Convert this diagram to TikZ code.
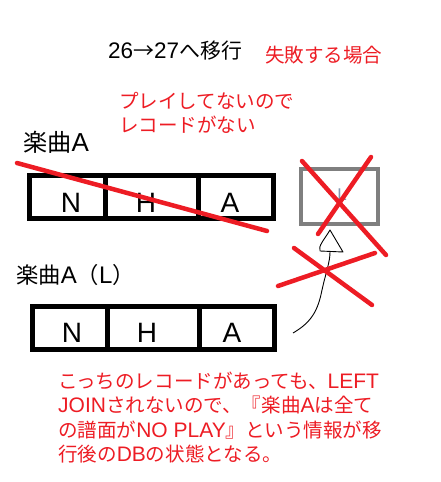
\documentclass[tikz,border=0pt]{standalone}
\usepackage{fontspec}
\setmainfont{Liberation Sans}
\newfontfamily\jp[Scale=0.93]{Noto Sans CJK JP}
\definecolor{pred}{RGB}{237,28,36}
\definecolor{pgray}{RGB}{127,127,127}
\definecolor{lgray}{RGB}{130,150,175}
\begin{document}
\begin{tikzpicture}[x=1pt,y=-1pt,
  cellbox/.style={draw, line width=5pt, minimum height=43pt, minimum width=#1, inner sep=0pt},
  celltext/.style={inner sep=0pt, font=\fontsize{28}{30}\selectfont},
  txt/.style={inner sep=0pt, anchor=base west},
  redtxt/.style={txt, text=pred, font=\fontsize{21}{24}\selectfont},
  strike/.style={draw=pred, line width=4.5pt, line cap=round},
  thinline/.style={draw=black, line width=0.9pt, line join=round}]
\path[use as bounding box] (0,0) rectangle (440,482);
% titles
\node[txt, font=\fontsize{22.5}{26}\selectfont] (title) at (108,58) {26{\jp →}27{\jp へ移行}};
\node[redtxt] (fail) at (265,62) {\jp 失敗する場合};
\node[redtxt] (note1) at (119,108) {\jp プレイしてないので};
\node[redtxt] (note2) at (119,132) {\jp レコードがない};
\node[txt, font=\fontsize{26}{30}\selectfont] (songA) at (23,151) {{\jp 楽曲}A};
\node[txt, font=\fontsize{24}{28}\selectfont] (songAL) at (16,283) {{\jp 楽曲}A{\jp （}L{\jp ）}};
% top row
\node[cellbox=75.5pt] (tN) at (67.25,197) {};
\node[cellbox=93pt] (tH) at (151.5,197) {};
\node[cellbox=75.5pt] (tA) at (235.75,197) {};
\node[celltext] (tNt) at (71,203) {N};
\node[celltext] (tHt) at (146,203) {H};
\node[celltext] (tAt) at (230,203) {A};
% bottom row
\node[cellbox=74.5pt] (bN) at (69.75,328) {};
\node[cellbox=92pt] (bH) at (153,328) {};
\node[cellbox=75.5pt] (bA) at (236.75,328) {};
\node[celltext] (bNt) at (72,333) {N};
\node[celltext] (bHt) at (147,333) {H};
\node[celltext] (bAt) at (232,333) {A};
% gray box
\node[draw=pgray, line width=4pt, minimum width=77pt, minimum height=55pt, inner sep=0pt] (gbox) at (339.5,196.5) {};
\node[inner sep=0pt, text=lgray, font=\fontsize{17}{20}\selectfont] (gL) at (342,195) {L};
% hand-drawn arrow
\coordinate (arrS) at (293,333);
\coordinate (arrE) at (330,252);
\coordinate (tip) at (330,230);
\coordinate (tl) at (320,251);
\coordinate (tr) at (343,252);
\draw[thinline] (arrS) .. controls (312,322) and (318,310) .. (322,290) .. controls (326,272) and (330,262) .. (arrE);
\draw[thinline] (tip) .. controls (324,240) and (318,246) .. (tl) -- (tr) -- cycle;
% red strikes
\coordinate (s1a) at (17,163); \coordinate (s1b) at (267,231);
\draw[strike] (s1a) -- (s1b);
\coordinate (x1a) at (302,161); \coordinate (x1b) at (386,255);
\coordinate (x2a) at (371,157); \coordinate (x2b) at (318,234);
\draw[strike] (x1a) -- (x1b);
\draw[strike] (x2a) -- (x2b);
\coordinate (y1a) at (294,248); \coordinate (y1b) at (372,305);
\coordinate (y2a) at (278,286); \coordinate (y2b) at (375,253);
\draw[strike] (y1a) -- (y1b);
\draw[strike] (y2a) -- (y2b);
% bottom note
\node[redtxt] (b1) at (58,388) {{\jp こっちのレコードがあっても、}LEFT};
\node[redtxt] (b2) at (58,412) {JOIN{\jp されないので、『楽曲}A{\jp は全て}};
\node[redtxt] (b3) at (58,437) {{\jp の譜面が}NO PLAY{\jp 』という情報が移}};
\node[redtxt] (b4) at (58,461) {{\jp 行後の}DB{\jp の状態となる。}};
\end{tikzpicture}
\end{document}
